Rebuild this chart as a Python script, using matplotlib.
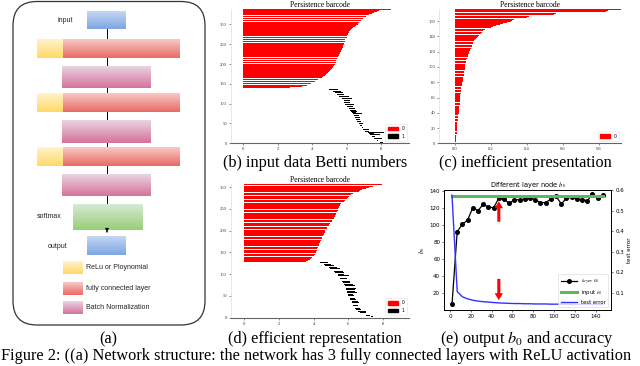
import numpy as np
import matplotlib.pyplot as plt
from matplotlib.patches import FancyBboxPatch, Patch
from matplotlib.colors import LinearSegmentedColormap

plt.rcParams['mathtext.fontset'] = 'stix'

# ---- (b) input data barcode ----
b_red_first = 141
b_red_death = [
    2.7, 2.7, 3.4, 3.5, 3.6, 3.7, 3.8, 3.85, 3.9, 3.9,
    3.95, 4.0, 4.05, 4.1, 4.1, 4.15, 4.2, 4.2, 4.25, 4.3,
    4.35, 4.4, 4.45, 4.5, 4.5, 4.55, 4.6, 4.65, 4.65, 4.7,
    4.72, 4.75, 4.78, 4.8, 4.82, 4.85, 4.88, 4.9, 4.92, 4.95,
    4.96, 4.98, 5.0, 5.02, 5.05, 5.07, 5.1, 5.12, 5.15, 5.17,
    5.18, 5.2, 5.2, 5.21, 5.23, 5.25, 5.27, 5.28, 5.3, 5.31,
    5.32, 5.33, 5.34, 5.35, 5.36, 5.37, 5.38, 5.39, 5.4, 5.4,
    5.41, 5.42, 5.43, 5.44, 5.45, 5.46, 5.48, 5.5, 5.51, 5.52,
    5.53, 5.55, 5.56, 5.57, 5.58, 5.6, 5.61, 5.62, 5.63, 5.64,
    5.65, 5.66, 5.67, 5.68, 5.7, 5.7, 5.71, 5.72, 5.73, 5.74,
    5.75, 5.76, 5.77, 5.78, 5.79, 5.8, 5.8, 5.81, 5.82, 5.83,
    5.84, 5.85, 5.86, 5.86, 5.87, 5.88, 5.88, 5.89, 5.9, 5.9,
    5.91, 5.92, 5.93, 5.95, 5.96, 5.98, 5.99, 6.0, 6.01, 6.02,
    6.03, 6.04, 6.05, 6.06, 6.07, 6.08, 6.09, 6.1, 6.11, 6.12,
    6.13, 6.14, 6.16, 6.18, 6.19, 6.2, 6.22, 6.25, 6.28, 6.3,
    6.33, 6.36, 6.4, 6.43, 6.46, 6.5, 6.53, 6.56, 6.6, 6.62,
    6.64, 6.66, 6.68, 6.7, 6.72, 6.73, 6.74, 6.76, 6.78, 6.8,
    6.82, 6.85, 6.88, 6.9, 6.93, 6.96, 7.0, 7.03, 7.07, 7.1,
    7.13, 7.16, 7.2, 7.25, 7.3, 7.35, 7.4, 7.45, 7.5, 7.55,
    7.6, 7.7, 7.75, 7.8, 7.85, 7.95, 8.1, 8.57]
b_black_birth = [
    8.05, 8.0, 7.95, 7.9, 7.85, 7.8, 7.75, 7.72, 7.68, 7.65,
    7.62, 7.6, 7.57, 7.55, 7.52, 7.5, 7.47, 7.45, 7.42, 7.4,
    7.38, 7.36, 7.34, 7.32, 7.3, 7.28, 7.24, 7.2, 7.15, 7.1,
    7.08, 7.05, 7.02, 7.0, 6.98, 6.96, 6.94, 6.92, 6.9, 6.88,
    6.86, 6.84, 6.82, 6.8, 6.78, 6.77, 6.75, 6.74, 6.72, 6.7,
    6.69, 6.67, 6.66, 6.64, 6.63, 6.61, 6.6, 6.58, 6.57, 6.55,
    6.54, 6.52, 6.51, 6.5, 6.48, 6.47, 6.46, 6.45, 6.44, 6.43,
    6.42, 6.41, 6.4, 6.39, 6.38, 6.36, 6.35, 6.33, 6.31, 6.29,
    6.27, 6.25, 6.23, 6.21, 6.2, 6.18, 6.16, 6.14, 6.12, 6.1,
    6.08, 6.06, 6.04, 6.02, 6.0, 5.98, 5.96, 5.94, 5.92, 5.9,
    5.89, 5.88, 5.87, 5.86, 5.85, 5.84, 5.83, 5.82, 5.81, 5.8,
    5.78, 5.76, 5.73, 5.7, 5.68, 5.65, 5.62, 5.6, 5.57, 5.54,
    5.52, 5.5, 5.48, 5.46, 5.45, 5.42, 5.38, 5.35, 5.3, 5.26,
    5.22, 5.18, 5.14, 5.1, 5.05, 5.0, 4.96, 4.92, 4.88, 4.84, 4.8]
b_black_len = [
    0.1, 0.2, 0.15, 0.3, 0.1, 0.35, 0.2, 0.1, 0.25, 0.15,
    0.3, 0.2, 0.45, 0.3, 0.2, 0.5, 0.35, 0.2, 0.3, 0.55,
    0.9, 0.3, 0.6, 0.2, 0.5, 0.3, 0.7, 0.95, 0.4, 0.25,
    0.2, 0.3, 0.15, 0.25, 0.1, 0.3, 0.2, 0.15, 0.25, 0.2,
    0.1, 0.2, 0.3, 0.15, 0.25, 0.1, 0.2, 0.3, 0.15, 0.2,
    0.25, 0.1, 0.2, 0.3, 0.15, 0.2, 0.1, 0.25, 0.35, 0.15,
    0.2, 0.3, 0.4, 0.25, 0.2, 0.3, 0.15, 0.35, 0.25, 0.2,
    0.3, 0.45, 0.35, 0.2, 0.3, 0.5, 0.25, 0.35, 0.2, 0.4,
    0.3, 0.25, 0.45, 0.35, 0.5, 0.3, 0.95, 0.4, 0.35, 0.45,
    0.3, 0.5, 0.4, 0.35, 0.55, 0.4, 0.3, 0.45, 0.5, 0.35,
    0.45, 0.4, 0.55, 0.35, 0.5, 0.45, 0.4, 0.6, 0.35, 0.5,
    0.4, 0.55, 0.45, 0.6, 0.4, 0.5, 0.45, 0.35, 0.55, 0.4,
    0.5, 0.45, 0.6, 0.4, 0.55, 0.5, 0.45, 0.6, 0.5, 0.55,
    0.45, 0.5, 0.6, 0.55, 0.5, 0.45, 0.55, 0.4, 0.3, 0.25, 0.2]

# ---- (c) inefficient presentation barcode ----
c_red_death = [
    0.002, 0.003, 0.004, 0.004, 0.005, 0.005, 0.006, 0.006, 0.007, 0.007,
    0.008, 0.008, 0.009, 0.01, 0.01, 0.01, 0.011, 0.011, 0.011, 0.012,
    0.012, 0.012, 0.012, 0.013, 0.013, 0.013, 0.014, 0.014, 0.014, 0.015,
    0.015, 0.015, 0.016, 0.016, 0.017, 0.017, 0.018, 0.018, 0.019, 0.02,
    0.02, 0.021, 0.021, 0.022, 0.022, 0.023, 0.023, 0.024, 0.024, 0.025,
    0.025, 0.026, 0.026, 0.027, 0.027, 0.027, 0.028, 0.028, 0.029, 0.029,
    0.029, 0.03, 0.03, 0.03, 0.03, 0.031, 0.031, 0.032, 0.033, 0.033,
    0.034, 0.035, 0.035, 0.036, 0.037, 0.038, 0.039, 0.04, 0.041, 0.042,
    0.042, 0.043, 0.043, 0.044, 0.045, 0.046, 0.046, 0.047, 0.048, 0.049,
    0.05, 0.05, 0.051, 0.051, 0.052, 0.053, 0.053, 0.054, 0.055, 0.056,
    0.056, 0.057, 0.057, 0.058, 0.059, 0.059, 0.06, 0.061, 0.061, 0.063,
    0.064, 0.066, 0.067, 0.069, 0.07, 0.072, 0.073, 0.074, 0.076, 0.078,
    0.08, 0.082, 0.084, 0.086, 0.087, 0.089, 0.091, 0.093, 0.095, 0.097,
    0.098, 0.1, 0.102, 0.104, 0.106, 0.108, 0.11, 0.115, 0.12, 0.125,
    0.13, 0.135, 0.14, 0.14, 0.145, 0.15, 0.15, 0.15, 0.155, 0.17,
    0.18, 0.19, 0.2, 0.21, 0.23, 0.24, 0.25, 0.27, 0.29, 0.3,
    0.31, 0.32, 0.33, 0.35, 0.37, 0.4, 0.41, 0.42, 0.47, 0.55,
    0.56, 0.75, 0.78, 0.84, 0.85, 0.95]

# ---- (d) efficient representation barcode ----
d_red_first = 128
d_red_death = [
    3.5, 3.55, 3.6, 3.65, 3.7, 3.75, 3.8, 3.82, 3.85, 3.88,
    3.9, 3.92, 3.95, 3.98, 4.0, 4.02, 4.04, 4.06, 4.08, 4.1,
    4.11, 4.12, 4.13, 4.14, 4.15, 4.16, 4.17, 4.18, 4.19, 4.19,
    4.2, 4.21, 4.22, 4.23, 4.25, 4.26, 4.27, 4.28, 4.3, 4.31,
    4.32, 4.33, 4.34, 4.35, 4.36, 4.37, 4.38, 4.39, 4.4, 4.42,
    4.43, 4.44, 4.46, 4.47, 4.48, 4.5, 4.51, 4.52, 4.54, 4.55,
    4.56, 4.57, 4.58, 4.59, 4.6, 4.61, 4.62, 4.63, 4.64, 4.65,
    4.66, 4.66, 4.67, 4.68, 4.7, 4.72, 4.74, 4.76, 4.78, 4.8,
    4.82, 4.83, 4.84, 4.85, 4.86, 4.88, 4.9, 4.92, 4.94, 4.96,
    4.98, 5.0, 5.02, 5.04, 5.06, 5.08, 5.1, 5.12, 5.13, 5.15,
    5.16, 5.17, 5.18, 5.2, 5.21, 5.22, 5.24, 5.25, 5.26, 5.28,
    5.29, 5.3, 5.31, 5.32, 5.33, 5.35, 5.36, 5.37, 5.38, 5.39,
    5.4, 5.41, 5.42, 5.43, 5.44, 5.45, 5.46, 5.47, 5.48, 5.49,
    5.5, 5.52, 5.54, 5.56, 5.58, 5.61, 5.64, 5.67, 5.7, 5.74,
    5.77, 5.8, 5.83, 5.86, 5.89, 5.92, 5.95, 5.98, 6.0, 6.02,
    6.04, 6.06, 6.08, 6.1, 6.14, 6.18, 6.23, 6.28, 6.34, 6.4,
    6.5, 6.55, 6.6, 6.65, 6.7, 6.75, 6.8, 6.87, 6.94, 7.0,
    7.1, 7.2, 7.3, 7.45, 7.7, 7.75, 7.8, 7.85, 7.96]
d_black_birth = [
    7.95, 7.7, 7.5, 7.3, 7.15, 7.05, 6.98, 6.92, 6.88, 6.85,
    6.8, 6.72, 6.65, 6.6, 6.55, 6.52, 6.5, 6.48, 6.45, 6.43,
    6.41, 6.4, 6.38, 6.36, 6.34, 6.32, 6.3, 6.28, 6.27, 6.26,
    6.25, 6.24, 6.23, 6.22, 6.21, 6.2, 6.2, 6.19, 6.18, 6.16,
    6.15, 6.14, 6.12, 6.11, 6.1, 6.08, 6.07, 6.05, 6.04, 6.02,
    6.01, 6.0, 5.99, 5.98, 5.97, 5.96, 5.95, 5.94, 5.93, 5.92,
    5.91, 5.9, 5.89, 5.88, 5.87, 5.86, 5.85, 5.84, 5.83, 5.82,
    5.82, 5.81, 5.8, 5.8, 5.79, 5.78, 5.77, 5.75, 5.73, 5.72,
    5.7, 5.68, 5.66, 5.64, 5.62, 5.6, 5.58, 5.56, 5.54, 5.52,
    5.5, 5.49, 5.48, 5.47, 5.46, 5.45, 5.44, 5.42, 5.4, 5.38,
    5.35, 5.32, 5.29, 5.26, 5.23, 5.2, 5.17, 5.14, 5.11, 5.08,
    5.05, 5.02, 4.99, 4.95, 4.91, 4.87, 4.83, 4.78, 4.74, 4.7,
    4.66, 4.62, 4.58, 4.54, 4.5, 4.46, 4.42, 4.38]
d_black_len = [
    0.15, 0.1, 0.2, 0.15, 0.1, 0.2, 0.25, 0.15, 0.2, 0.3,
    0.25, 0.35, 0.4, 0.3, 0.45, 0.3, 0.5, 0.4, 0.35, 0.3,
    0.25, 0.3, 0.2, 0.35, 0.25, 0.3, 0.4, 0.2, 0.3, 0.25,
    0.35, 0.3, 0.45, 0.25, 0.3, 0.4, 0.2, 0.35, 0.3, 0.25,
    0.3, 0.4, 0.35, 0.5, 0.3, 0.45, 0.35, 0.4, 0.3, 0.5,
    0.4, 0.35, 0.55, 0.3, 0.45, 0.4, 0.5, 0.35, 0.6, 0.4,
    0.45, 0.5, 0.35, 0.55, 0.4, 0.5, 0.45, 0.6, 0.4, 0.5,
    0.45, 0.55, 0.4, 0.5, 0.6, 0.45, 0.5, 0.4, 0.55, 0.45,
    0.5, 0.4, 0.55, 0.45, 0.5, 0.6, 0.4, 0.5, 0.45, 0.55,
    0.4, 0.5, 0.45, 0.55, 0.4, 0.5, 0.45, 0.6, 0.5, 0.4,
    0.5, 0.45, 0.55, 0.4, 0.5, 0.45, 0.55, 0.5, 0.4, 0.5,
    0.45, 0.55, 0.5, 0.6, 0.45, 0.5, 0.55, 0.45, 0.5, 0.6,
    0.5, 0.55, 0.45, 0.5, 0.6, 0.55, 0.5, 0.45]

# ---- (e) output b0 and accuracy ----
epochs = [2, 7, 12, 17, 22, 27, 32, 37, 42, 47, 52, 57, 62, 67, 72,
          77, 82, 87, 92, 97, 102, 107, 112, 117, 122, 127, 132, 137, 142, 147]
layer_b0 = [7, 92.5, 101, 106, 120.5, 117, 124.5, 121, 120.5, 131.5,
            130.6, 125.5, 130, 129.6, 130.6, 132.3, 129.6, 126.5, 126.5, 130.6,
            133.8, 125, 131.5, 132.7, 130.6, 130, 128.6, 136, 131.5, 135.5]
test_error = [0.575, 0.105, 0.08, 0.07, 0.063, 0.059, 0.056, 0.054, 0.052, 0.05,
              0.049, 0.048, 0.047, 0.047, 0.046, 0.046, 0.045, 0.045, 0.045, 0.044,
              0.044, 0.044, 0.044, 0.043, 0.043, 0.043, 0.043, 0.043, 0.043, 0.043]
input_b0_x = [2, 147]
input_b0 = [134, 134]
arrow_x = 47
arrow_up = (104, 128)
arrow_down = (37, 12)

captions = ["(a)", "(b) input data Betti numbers", "(c) inefficient presentation",
            "(d) efficient representation", "(e) output $b_0$ and accuracy"]
legend_a = ["ReLu or Ploynomial", "fully connected layer", "Batch Normalization"]

W, H = 640, 366
fig = plt.figure(figsize=(6.4, 3.66), dpi=100)


def px_axes(x0, y0, x1, y1):
    return fig.add_axes([x0 / W, 1 - y1 / H, (x1 - x0) / W, (y1 - y0) / H])


def barcode(ax, red_first, red_death, black_birth, black_len, xlim, ytop, xticks, yticks, xfmt):
    ax.barh(np.arange(red_first, red_first + len(red_death)), red_death, left=0,
            height=0.8, color='red', linewidth=0)
    handles = [Patch(color='red', label='0')]
    if black_birth:
        ax.barh(np.arange(len(black_birth)), black_len, left=black_birth,
                height=0.55, color='black', linewidth=0)
        handles.append(Patch(color='black', label='1'))
    ax.set_xlim(*xlim)
    ax.set_ylim(0, ytop)
    ax.set_xticks(xticks)
    ax.set_xticklabels([xfmt.format(t) for t in xticks])
    ax.set_yticks(yticks)
    ax.set_title("Persistence barcode", fontsize=5.5, family='Liberation Serif', pad=1.5)
    for lab in ax.get_xticklabels() + ax.get_yticklabels():
        lab.set_family('Liberation Serif')
    ax.tick_params(labelsize=3.3, length=1.5, width=0.4, pad=1.5, colors='#333333')
    ax.spines['top'].set_visible(False)
    ax.spines['right'].set_visible(False)
    ax.spines['left'].set_color('#dddddd')
    ax.spines['left'].set_linewidth(0.5)
    ax.spines['bottom'].set_color('#666666')
    ax.spines['bottom'].set_linewidth(0.8)
    leg = ax.legend(handles=handles, loc='lower right', fontsize=3.3, frameon=True,
                    handlelength=2.2, handleheight=0.8, borderpad=0.5, labelspacing=0.6)
    leg.get_frame().set_linewidth(0.4)
    leg.get_frame().set_edgecolor('#dddddd')


ax_b = px_axes(231, 9, 409, 143.3)
barcode(ax_b, b_red_first, b_red_death, b_black_birth, b_black_len, (-0.7, 9.6), 339,
        [0, 2, 4, 6, 8], [0, 50, 100, 150, 200, 250, 300], "{:d}")

ax_c = px_axes(439.3, 9, 621, 143.3)
barcode(ax_c, 0, c_red_death, [], [], (-0.087, 0.924), 176,
        [0.0, 0.2, 0.4, 0.6, 0.8], list(range(0, 161, 20)), "{:.1f}")

ax_d = px_axes(231, 184, 409, 317.7)
barcode(ax_d, d_red_first, d_red_death, d_black_birth, d_black_len, (-0.76, 9.5), 307,
        [0, 2, 4, 6, 8], [0, 50, 100, 150, 200, 250, 300], "{:d}")

# (e)
ax_e = px_axes(444.3, 190, 611, 310)
ax_e2 = ax_e.twinx()
l1, = ax_e.plot(epochs, layer_b0, '-o', color='black', lw=0.9, ms=2.6, label='$layer\\ b_0$')
l2, = ax_e.plot(input_b0_x, input_b0, color='#5cb85c', lw=2.2, label='input $b_0$')
l3, = ax_e2.plot(epochs, test_error, color='#3333ff', lw=1.0, label='test error')
ax_e.annotate('', xy=(arrow_x, arrow_up[1]), xytext=(arrow_x, arrow_up[0]),
              arrowprops=dict(color='red', width=2.2, headwidth=6, headlength=5, lw=0))
ax_e.annotate('', xy=(arrow_x, arrow_down[1]), xytext=(arrow_x, arrow_down[0]),
              arrowprops=dict(color='red', width=2.2, headwidth=6, headlength=5, lw=0))
ax_e.set_xlim(-5.4, 154.8)
ax_e.set_ylim(0.5, 141.2)
ax_e2.set_ylim(0.0156, 0.6)
ax_e.set_xticks(range(0, 141, 20))
ax_e.set_yticks(range(20, 141, 20))
ax_e2.set_yticks([0.1, 0.2, 0.3, 0.4, 0.5, 0.6])
ax_e.set_ylabel('$b_0$', fontsize=4.5, labelpad=2)
ax_e2.set_ylabel('test error', fontsize=4, labelpad=2)
ax_e.set_title('Different layer node $b_0$', fontsize=4.8, pad=2)
for a in (ax_e, ax_e2):
    a.tick_params(labelsize=4, length=1.5, width=0.4, pad=1.5)
    for s in a.spines.values():
        s.set_linewidth(0.6)
leg = ax_e2.legend(handles=[l1, l2, l3], loc='lower right', fontsize=3.8, frameon=True,
                   handlelength=3, borderpad=0.5, labelspacing=0.5)
leg.get_frame().set_linewidth(0.4)

# (a) network diagram
ax_a = fig.add_axes([0, 0, 210 / W, 1])
ax_a.set_xlim(0, 210)
ax_a.set_ylim(H, 0)
ax_a.axis('off')
ax_a.add_patch(FancyBboxPatch((13, 1.5), 192, 323.5, boxstyle='round,pad=0,rounding_size=24',
                              fill=False, edgecolor='#333333', lw=0.9))

grads = {
    'blue': ('#c3d7f4', '#7ea6e0'),
    'yellow': ('#fff2cc', '#ffd966'),
    'red': ('#f8c8c6', '#ea6b66'),
    'pink': ('#ead3e1', '#d5739d'),
    'green': ('#d5e8d4', '#97d077'),
}


def block(x0, y0, x1, y1, kind):
    cmap = LinearSegmentedColormap.from_list(kind, grads[kind])
    ax_a.imshow(np.linspace(0, 1, 32).reshape(-1, 1), cmap=cmap, aspect='auto',
                extent=(x0, x1, y1, y0), zorder=3, interpolation='bilinear')


ax_a.plot([107, 107], [29, 204], color='black', lw=0.7, zorder=1)
ax_a.annotate('', xy=(107, 235), xytext=(107, 229),
              arrowprops=dict(arrowstyle='-|>', color='black', lw=0.7, mutation_scale=5), zorder=4)

block(87, 11, 126, 29, 'blue')
for y0, y1 in [(39, 58), (93, 112), (147, 166)]:
    block(37, y0, 63, y1, 'yellow')
    block(63, y0, 180, y1, 'red')
for y0, y1 in [(66, 88), (120, 143), (174, 196)]:
    block(62, y0, 151, y1, 'pink')
block(73, 204, 143, 230, 'green')
block(87, 236, 126, 255, 'blue')

txt = dict(fontsize=5, family='Liberation Sans', color='#222222', va='center')
ax_a.text(65, 21, 'input', ha='center', **txt)
ax_a.text(49, 217, 'softmax', ha='center', **txt)
ax_a.text(58, 246, 'output', ha='center', **txt)
for (y0, y1), kind, lab in zip([(261, 274), (282, 295), (301, 314)],
                               ['yellow', 'red', 'pink'], legend_a):
    block(63, y0, 83, y1, kind)
    ax_a.text(86, (y0 + y1) / 2, lab, ha='left', **txt)
ax_a.set_xlim(0, 210)
ax_a.set_ylim(H, 0)

# captions
cap = dict(fontsize=11.7, family='Liberation Serif', ha='center', va='center')
for (cx, cy), c in zip([(108, 339), (315, 163), (525, 163), (315, 339), (527, 339)], captions):
    fig.text(cx / W, 1 - cy / H, c, **cap)
fig.text(1 / W, 1.5 / H,
         "Figure 2: ((a) Network structure: the network has 3 fully connected layers with ReLU activation",
         fontsize=11.8, family='Liberation Serif', ha='left', va='bottom')

fig.savefig('out.png', dpi=100)
